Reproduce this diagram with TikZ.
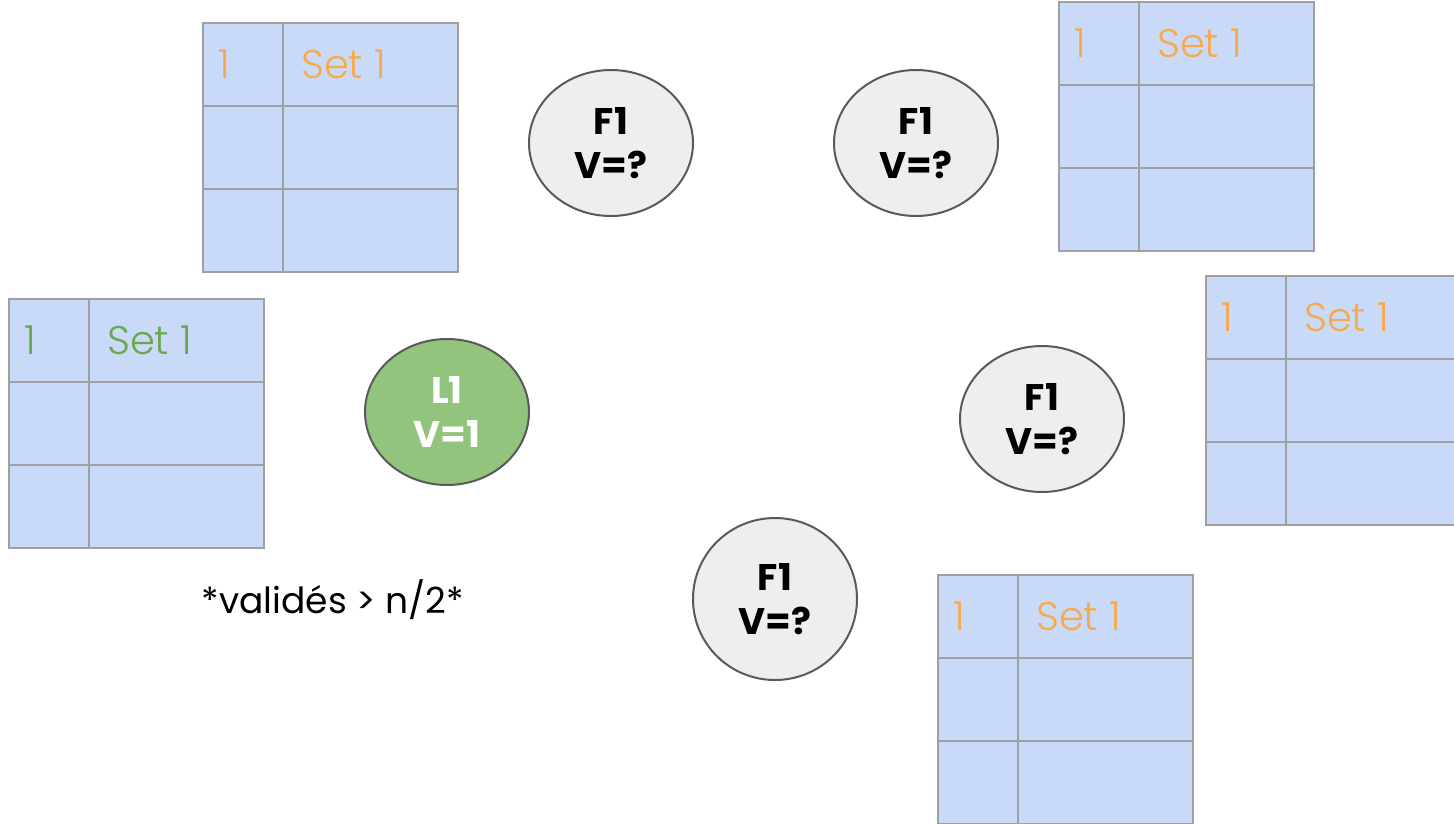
\documentclass[tikz,border=0pt]{standalone}
\usepackage{fontspec}
\setmainfont{Poppins}
\newfontfamily\thinfont{Poppins Light}
\usetikzlibrary{shapes.geometric}

\definecolor{cellblue}{HTML}{C9DAF8}
\definecolor{cellgray}{HTML}{A0A0A0}
\definecolor{rimgray}{HTML}{595959}
\definecolor{followergray}{HTML}{EEEEEE}
\definecolor{leadergreen}{HTML}{93C47D}
\definecolor{pendingorange}{HTML}{F9A94B}
\definecolor{commitgreen}{HTML}{6AA84F}

\tikzset{
  cell/.style={draw=cellgray, line width=2pt},
  entry/.style={anchor=base west, inner sep=0pt,
    font=\thinfont\fontsize{40}{48}\selectfont},
  replica/.style={ellipse, draw=rimgray, line width=2pt, inner sep=0pt,
    minimum width=164pt, minimum height=146pt, align=center,
    font=\bfseries\fontsize{37}{44}\selectfont},
  follower/.style={replica, fill=followergray},
  leader/.style={replica, fill=leadergreen, text=white},
}

% log of one replica: name, x, y, colour of the entry
\newcommand{\replicalog}[4]{%
  \fill[cellblue] (#2,#3) rectangle ++(255,249);
  \draw[cell] (#2,#3) rectangle ++(255,249);
  \draw[cell] (#2+80,#3) -- ++(0,249);
  \draw[cell] (#2,#3+83) -- ++(255,0);
  \draw[cell] (#2,#3+166) -- ++(255,0);
  \node[entry, text=#4] (#1-index) at (#2+15,#3+55) {1};
  \node[entry, text=#4] (#1-value) at (#2+98,#3+55) {Set 1};
}

\begin{document}
\begin{tikzpicture}[x=1pt, y=-1pt]
  \clip (0,0) rectangle (1454,823);

  %Logs
  \replicalog{LogA}{203}{23}{pendingorange}
  \replicalog{LogL}{9}{299}{commitgreen}
  \replicalog{LogB}{1059}{2}{pendingorange}
  \replicalog{LogC}{1206}{276}{pendingorange}
  \replicalog{LogD}{938}{575}{pendingorange}

  %Replicas
  \node[leader] (Leader) at (447,412) {L1\\V=1};
  \node[follower] (FollowerA) at (611,143) {F1\\V=?};
  \node[follower] (FollowerB) at (916,143) {F1\\V=?};
  \node[follower] (FollowerC) at (1042,419) {F1\\V=?};
  \node[follower, minimum height=162pt] (FollowerD) at (775,599) {F1\\V=?};

  \node[anchor=base, inner sep=0pt, font=\fontsize{36}{40}\selectfont]
    (Majority) at (333,613) {*validés > n/2*};
\end{tikzpicture}
\end{document}
